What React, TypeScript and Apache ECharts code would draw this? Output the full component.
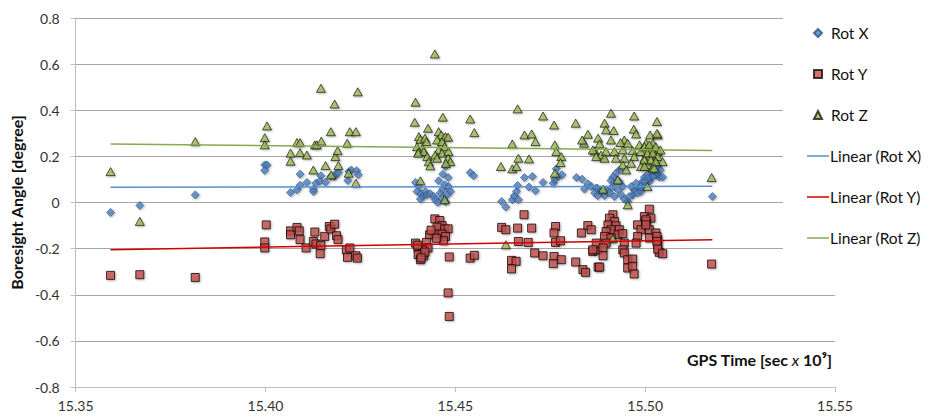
import React, { useEffect, useRef } from "react";
import * as echarts from "echarts";

// ---------- data (GPS time [sec x 10^9], boresight angle [degree]) ----------
const xTicks = [15.35, 15.4, 15.45, 15.5, 15.55];
const yTicks = [-0.8, -0.6, -0.4, -0.2, 0, 0.2, 0.4, 0.6, 0.8];

const rotX: [number, number][] = [
  [15.3592, -0.043], [15.3669, -0.013], [15.3815, 0.033],
  [15.3998, 0.163], [15.4004, 0.163], [15.3998, 0.139],
  [15.4066, 0.043], [15.4083, 0.055], [15.4091, 0.123], [15.4091, 0.075], [15.4109, 0.087],
  [15.4126, 0.058], [15.4126, 0.048], [15.4133, 0.084], [15.4146, 0.116], [15.4143, 0.093],
  [15.4158, 0.088], [15.4172, 0.113], [15.4181, 0.113], [15.4185, 0.124], [15.4192, 0.13],
  [15.4217, 0.095], [15.422, 0.134], [15.4226, 0.141], [15.424, 0.138], [15.4244, 0.12],
  [15.4467, 0.123], [15.4481, 0.108], [15.4474, 0.156], [15.4456, 0.094], [15.4395, 0.087],
  [15.4404, 0.069], [15.4399, 0.048], [15.441, 0.038], [15.4414, 0.026], [15.4421, 0.048],
  [15.4425, 0.033], [15.4408, 0.015], [15.4434, 0.038], [15.4443, 0.026], [15.4447, 0.012],
  [15.4454, 0.0], [15.446, 0.041], [15.4467, 0.058], [15.4472, 0.077], [15.4482, 0.069],
  [15.4487, 0.048], [15.4478, 0.033], [15.4465, 0.019], [15.4474, 0.004], [15.4539, 0.13],
  [15.4548, 0.116],
  [15.4622, 0.004], [15.4633, -0.02], [15.465, 0.012], [15.4655, 0.029], [15.4661, 0.048],
  [15.4666, 0.012], [15.4664, 0.074], [15.4682, 0.108], [15.4703, 0.113], [15.4694, 0.067],
  [15.4711, 0.051], [15.4731, 0.087], [15.4758, 0.084], [15.4762, 0.101], [15.4766, 0.146],
  [15.4771, 0.113], [15.4781, 0.12], [15.4819, 0.108], [15.4834, 0.101], [15.4849, 0.081],
  [15.484, 0.058], [15.4858, 0.069], [15.4874, 0.062],
  [15.4932, 0.141], [15.4923, 0.127], [15.4915, 0.11], [15.491, 0.095], [15.4919, 0.084],
  [15.4932, 0.091], [15.4941, 0.069], [15.4928, 0.055], [15.491, 0.062], [15.4897, 0.055],
  [15.4884, 0.048], [15.4871, 0.062], [15.4867, 0.041], [15.4893, 0.029], [15.4906, 0.041],
  [15.4919, 0.026], [15.4937, 0.033], [15.4945, 0.015], [15.4954, 0.004], [15.4967, 0.033],
  [15.4971, 0.055], [15.4963, 0.069], [15.4976, 0.084], [15.4985, 0.062], [15.4993, 0.091],
  [15.4998, 0.11], [15.5006, 0.12], [15.5015, 0.11], [15.5028, 0.12], [15.5037, 0.11],
  [15.5033, 0.156], [15.5011, 0.091], [15.4958, 0.026], [15.498, 0.041], [15.4989, 0.048],
  [15.4875, 0.029],
  [15.504, 0.141], [15.5031, 0.127], [15.5046, 0.11], [15.502, 0.113], [15.5006, 0.105],
  [15.4998, 0.091], [15.4989, 0.069], [15.5177, 0.026],
];

const rotY: [number, number][] = [
  [15.3592, -0.316], [15.3669, -0.313], [15.3815, -0.325],
  [15.4002, -0.097], [15.3998, -0.171], [15.3998, -0.197],
  [15.4066, -0.123], [15.4066, -0.14], [15.4083, -0.108], [15.4089, -0.123], [15.4091, -0.161],
  [15.4107, -0.197], [15.4126, -0.169], [15.413, -0.128], [15.4133, -0.18], [15.4146, -0.186],
  [15.4144, -0.222], [15.4156, -0.147], [15.4168, -0.104], [15.4172, -0.115], [15.4182, -0.094],
  [15.4187, -0.144], [15.4191, -0.161], [15.4213, -0.205], [15.4222, -0.197], [15.4216, -0.238],
  [15.4238, -0.231], [15.4242, -0.241],
  [15.4446, -0.071], [15.4459, -0.078], [15.4465, -0.1], [15.4452, -0.107], [15.4472, -0.115],
  [15.4481, -0.114], [15.4447, -0.137], [15.4432, -0.14], [15.4465, -0.137], [15.4474, -0.147],
  [15.4469, -0.166], [15.4395, -0.176], [15.4402, -0.197], [15.4424, -0.173], [15.4428, -0.197],
  [15.4413, -0.205], [15.4417, -0.231], [15.4402, -0.226], [15.4408, -0.248], [15.4484, -0.236],
  [15.4539, -0.241], [15.455, -0.229], [15.4481, -0.392], [15.4484, -0.494],
  [15.4436, -0.12], [15.445, -0.155], [15.44, -0.185], [15.442, -0.215], [15.441, -0.24],
  [15.4681, -0.053], [15.4622, -0.108], [15.4633, -0.118], [15.4664, -0.111], [15.4701, -0.111],
  [15.4764, -0.104], [15.476, -0.132], [15.4849, -0.1], [15.4832, -0.132], [15.4666, -0.169],
  [15.4692, -0.173], [15.4764, -0.173], [15.4777, -0.166], [15.4648, -0.251], [15.466, -0.255],
  [15.4648, -0.288], [15.4709, -0.219], [15.4731, -0.231], [15.476, -0.234], [15.4779, -0.248],
  [15.4758, -0.265], [15.4817, -0.258], [15.4836, -0.291], [15.4843, -0.303], [15.4862, -0.212],
  [15.4874, -0.205], [15.4876, -0.28],
  [15.4915, -0.053], [15.4906, -0.068], [15.4919, -0.082], [15.4902, -0.097], [15.4923, -0.101],
  [15.491, -0.118], [15.4897, -0.126], [15.4932, -0.118], [15.4928, -0.14], [15.4941, -0.135],
  [15.4893, -0.147], [15.491, -0.154], [15.4897, -0.176], [15.4871, -0.176], [15.4945, -0.176],
  [15.4889, -0.197], [15.4941, -0.205], [15.4862, -0.205], [15.4945, -0.219], [15.4889, -0.231],
  [15.488, -0.28], [15.4954, -0.248], [15.4967, -0.245], [15.4954, -0.284], [15.4967, -0.277],
  [15.4971, -0.31], [15.5011, -0.029], [15.4998, -0.061], [15.5015, -0.068], [15.5002, -0.082],
  [15.498, -0.097], [15.4989, -0.118], [15.5011, -0.118], [15.5028, -0.132], [15.498, -0.147],
  [15.5011, -0.154], [15.5033, -0.161], [15.4976, -0.176], [15.5033, -0.183], [15.5037, -0.216],
  [15.4858, -0.118],
  [15.5002, -0.075], [15.5002, -0.097], [15.5031, -0.147], [15.5031, -0.169], [15.5033, -0.202],
  [15.5046, -0.222], [15.5175, -0.267],
];

const rotZ: [number, number][] = [
  [15.3592, 0.134], [15.3669, -0.082], [15.3815, 0.264],
  [15.4004, 0.332], [15.3998, 0.281], [15.3998, 0.25],
  [15.4066, 0.214], [15.4066, 0.179], [15.4083, 0.26], [15.4091, 0.26], [15.4091, 0.216],
  [15.4109, 0.206], [15.4126, 0.141], [15.413, 0.25], [15.4135, 0.25], [15.4146, 0.495],
  [15.4147, 0.266], [15.4158, 0.16], [15.4172, 0.307], [15.4173, 0.12], [15.4182, 0.427],
  [15.4184, 0.199], [15.419, 0.225], [15.4192, 0.16], [15.4215, 0.257], [15.4219, 0.127],
  [15.4222, 0.307], [15.4238, 0.307], [15.4238, 0.084], [15.4243, 0.48],
  [15.4446, 0.644], [15.4395, 0.435], [15.4393, 0.348], [15.4467, 0.37], [15.4539, 0.362],
  [15.455, 0.303], [15.4428, 0.322], [15.4404, 0.286], [15.4408, 0.274], [15.442, 0.279],
  [15.4424, 0.264], [15.4399, 0.242], [15.4413, 0.235], [15.4404, 0.221], [15.4417, 0.221],
  [15.4402, 0.214], [15.4426, 0.199], [15.443, 0.177], [15.4434, 0.159], [15.4456, 0.307],
  [15.4463, 0.293], [15.4474, 0.286], [15.4481, 0.283], [15.4452, 0.271], [15.4465, 0.264],
  [15.4472, 0.242], [15.4456, 0.228], [15.4465, 0.214], [15.4482, 0.221], [15.4447, 0.206],
  [15.4452, 0.192], [15.4481, 0.192], [15.4487, 0.177], [15.4475, 0.17], [15.4408, 0.094],
  [15.4472, 0.012], [15.462, 0.156],
  [15.4664, 0.406], [15.4731, 0.375], [15.476, 0.336], [15.4817, 0.344], [15.4682, 0.293],
  [15.4701, 0.297], [15.4711, 0.264], [15.465, 0.254], [15.4762, 0.25], [15.4766, 0.221],
  [15.4666, 0.192], [15.4694, 0.189], [15.465, 0.146], [15.4661, 0.156], [15.4779, 0.199],
  [15.4777, 0.173], [15.4762, 0.127], [15.4849, 0.296], [15.4839, 0.257], [15.4834, 0.271],
  [15.4876, 0.279], [15.4867, 0.224], [15.4633, -0.183],
  [15.491, 0.387], [15.4971, 0.375], [15.5031, 0.351], [15.4893, 0.344], [15.4897, 0.315],
  [15.4917, 0.312], [15.497, 0.318], [15.4976, 0.297], [15.491, 0.271], [15.4945, 0.271],
  [15.5013, 0.293], [15.5033, 0.293], [15.488, 0.254], [15.4935, 0.26], [15.4954, 0.257],
  [15.4985, 0.25], [15.5002, 0.257], [15.502, 0.257], [15.4862, 0.228], [15.4884, 0.206],
  [15.4897, 0.221], [15.4919, 0.221], [15.4941, 0.228], [15.4967, 0.225], [15.4989, 0.221],
  [15.5011, 0.228], [15.5033, 0.221], [15.4871, 0.199], [15.4923, 0.192], [15.4945, 0.192],
  [15.4971, 0.199], [15.4998, 0.192], [15.5024, 0.185], [15.4893, 0.192], [15.4941, 0.163],
  [15.4963, 0.17], [15.4989, 0.156], [15.5006, 0.163], [15.502, 0.149], [15.495, 0.141],
  [15.4928, 0.098], [15.4889, 0.058], [15.4954, -0.01], [15.4915, -0.157], [15.5006, 0.069],
  [15.5031, 0.3], [15.4998, 0.242], [15.5011, 0.25], [15.5028, 0.242], [15.504, 0.228],
  [15.5006, 0.214], [15.502, 0.214], [15.5033, 0.199], [15.5046, 0.177], [15.4998, 0.185],
  [15.5015, 0.185], [15.5028, 0.177], [15.4998, 0.156], [15.5024, 0.149], [15.5175, 0.108],
];

// trend lines (read at both ends of the data range)
const trendX: [number, number][] = [[15.3592, 0.066], [15.5177, 0.07]];
const trendY: [number, number][] = [[15.3592, -0.205], [15.5177, -0.161]];
const trendZ: [number, number][] = [[15.3592, 0.254], [15.5177, 0.225]];

const FONT = "Lato, 'Open Sans', sans-serif";

export default function App() {
  const ref = useRef<HTMLDivElement>(null);
  useEffect(() => {
    if (!ref.current) return;
    const chart = echarts.init(ref.current, undefined, { renderer: "svg" });
    const markerShadow = {
      shadowBlur: 2,
      shadowColor: "rgba(0,0,0,0.35)",
      shadowOffsetX: 1,
      shadowOffsetY: 1,
    };
    const legendText = { fontSize: 15.5, color: "#111", lineHeight: 16, fontFamily: FONT };
    chart.setOption({
      animation: false,
      backgroundColor: "#ffffff",
      textStyle: { fontFamily: FONT },
      grid: { left: 72, right: 94, top: 18, bottom: 30 },
      xAxis: {
        type: "value",
        min: xTicks[0],
        max: xTicks[xTicks.length - 1],
        interval: 0.05,
        splitLine: { show: false },
        axisLine: { show: true, onZero: false, lineStyle: { color: "#BFBFBF", width: 1 } },
        axisTick: { show: true, length: 5, lineStyle: { color: "#BFBFBF" } },
        axisLabel: {
          margin: 11,
          fontSize: 14,
          color: "#333",
          fontFamily: FONT,
          formatter: (v: number) => v.toFixed(2),
        },
      },
      yAxis: {
        type: "value",
        min: yTicks[0],
        max: yTicks[yTicks.length - 1],
        interval: 0.2,
        name: "Boresight Angle [degree]",
        nameLocation: "middle",
        nameGap: 46,
        nameTextStyle: { fontWeight: "bold", fontSize: 16, color: "#111", fontFamily: FONT },
        splitLine: { show: true, lineStyle: { color: "#A6A6A6", width: 1 } },
        axisLine: { show: true, onZero: false, lineStyle: { color: "#BFBFBF", width: 1 } },
        axisTick: { show: true, length: 5, lineStyle: { color: "#BFBFBF" } },
        axisLabel: {
          margin: 16,
          fontSize: 14,
          color: "#333",
          fontFamily: FONT,
          formatter: (v: number) => String(Math.round(v * 10) / 10),
        },
      },
      legend: [
        {
          orient: "vertical",
          left: 813,
          top: 25,
          padding: 0,
          itemWidth: 8,
          itemHeight: 8,
          itemGap: 25,
          textStyle: { ...legendText, padding: [0, 0, 0, 4] },
          data: [
            { name: "Rot X", icon: "diamond" },
            { name: "Rot Y", icon: "rect" },
            { name: "Rot Z", icon: "triangle" },
          ],
        },
        {
          orient: "vertical",
          left: 807,
          top: 148,
          padding: 0,
          itemWidth: 22,
          itemHeight: 1.5,
          itemGap: 25,
          textStyle: { ...legendText, padding: [0, 0, 0, -4] },
          data: [
            { name: "Linear (Rot X)", icon: "rect" },
            { name: "Linear (Rot Y)", icon: "rect" },
            { name: "Linear (Rot Z)", icon: "rect" },
          ],
        },
      ],
      graphic: [
        {
          type: "rect",
          left: 783,
          top: 0,
          z: 1,
          shape: { width: 146, height: 262 },
          style: { fill: "#ffffff" },
        },
        {
          type: "text",
          x: 832,
          y: 359,
          z: 5,
          style: {
            text: "{b|GPS Time [sec }{i|x}{b| 10⁹]}",
            align: "right",
            verticalAlign: "middle",
            rich: {
              b: { fontSize: 16, fontWeight: "bold", fill: "#111", fontFamily: FONT },
              i: { fontSize: 16, fontStyle: "italic", fill: "#111", fontFamily: FONT },
            },
          },
        },
      ],
      series: [
        {
          name: "Rot X",
          type: "scatter",
          data: rotX,
          symbol: "diamond",
          symbolSize: 8,
          itemStyle: { color: "#4F81BD", borderColor: "#2E5387", borderWidth: 0.8, ...markerShadow },
          z: 2,
        },
        {
          name: "Rot Y",
          type: "scatter",
          data: rotY,
          symbol: "rect",
          symbolSize: 8,
          itemStyle: { color: "#C0504D", borderColor: "#1a0a0a", borderWidth: 1, ...markerShadow },
          z: 2,
        },
        {
          name: "Rot Z",
          type: "scatter",
          data: rotZ,
          symbol: "triangle",
          symbolSize: [9, 8],
          itemStyle: { color: "#9BBB59", borderColor: "#1a1a0a", borderWidth: 0.9, ...markerShadow },
          z: 2,
        },
        {
          name: "Linear (Rot X)",
          type: "line",
          data: trendX,
          symbol: "none",
          lineStyle: { color: "#5B8FD0", width: 1.5 },
          itemStyle: { color: "#5B8FD0", borderWidth: 0 },
          z: 3,
        },
        {
          name: "Linear (Rot Y)",
          type: "line",
          data: trendY,
          symbol: "none",
          lineStyle: { color: "#D00000", width: 1.5 },
          itemStyle: { color: "#D00000", borderWidth: 0 },
          z: 3,
        },
        {
          name: "Linear (Rot Z)",
          type: "line",
          data: trendZ,
          symbol: "none",
          lineStyle: { color: "#86A94F", width: 1.5 },
          itemStyle: { color: "#86A94F", borderWidth: 0 },
          z: 3,
        },
      ],
    });
    return () => chart.dispose();
  }, []);
  return (
    <div
      ref={ref}
      style={{ position: "fixed", left: 0, top: 0, width: 929, height: 417, background: "#fff" }}
    />
  );
}
